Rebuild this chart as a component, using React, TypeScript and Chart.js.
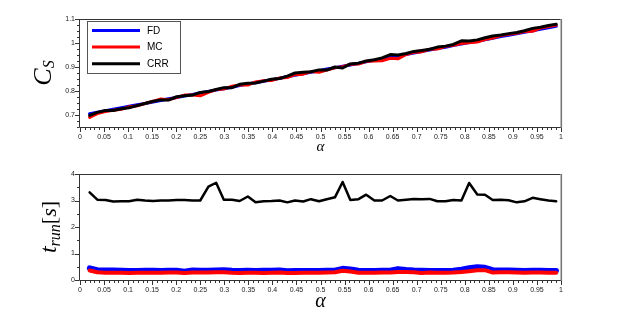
import React, { useEffect, useRef } from 'react';
import { Chart, registerables } from 'chart.js';

Chart.register(...registerables);

// ---------------- data ----------------
const alpha = [
  0.020, 0.036, 0.053, 0.069, 0.086, 0.102, 0.119, 0.135, 0.152, 0.168,
  0.184, 0.201, 0.217, 0.234, 0.250, 0.267, 0.283, 0.299, 0.316, 0.332,
  0.349, 0.365, 0.382, 0.398, 0.415, 0.431, 0.447, 0.464, 0.480, 0.497,
  0.513, 0.530, 0.546, 0.562, 0.579, 0.595, 0.612, 0.628, 0.645, 0.661,
  0.678, 0.694, 0.710, 0.727, 0.743, 0.760, 0.776, 0.793, 0.809, 0.826,
  0.842, 0.858, 0.875, 0.891, 0.908, 0.924, 0.941, 0.957, 0.974, 0.990,
];

const csFD = [
  0.705, 0.711, 0.717, 0.724, 0.730, 0.736, 0.742, 0.748, 0.754, 0.761,
  0.767, 0.773, 0.779, 0.785, 0.792, 0.798, 0.804, 0.810, 0.816, 0.823,
  0.829, 0.835, 0.841, 0.847, 0.853, 0.860, 0.866, 0.872, 0.878, 0.884,
  0.891, 0.897, 0.903, 0.909, 0.915, 0.922, 0.928, 0.934, 0.940, 0.946,
  0.952, 0.959, 0.965, 0.971, 0.977, 0.983, 0.990, 0.996, 1.002, 1.008,
  1.014, 1.020, 1.027, 1.033, 1.039, 1.045, 1.051, 1.058, 1.064, 1.070,
];

const csMC = [
  0.690, 0.706, 0.714, 0.720, 0.724, 0.734, 0.738, 0.748, 0.757, 0.767,
  0.764, 0.773, 0.783, 0.783, 0.780, 0.794, 0.806, 0.808, 0.820, 0.825,
  0.825, 0.838, 0.843, 0.844, 0.854, 0.856, 0.868, 0.870, 0.881, 0.878,
  0.887, 0.897, 0.901, 0.911, 0.912, 0.924, 0.925, 0.926, 0.936, 0.934,
  0.952, 0.961, 0.963, 0.974, 0.975, 0.986, 0.991, 0.998, 1.001, 1.004,
  1.014, 1.021, 1.031, 1.036, 1.041, 1.048, 1.049, 1.062, 1.069, 1.074,
];

const csCRR = [
  0.698, 0.711, 0.719, 0.719, 0.726, 0.730, 0.739, 0.748, 0.757, 0.763,
  0.762, 0.776, 0.780, 0.783, 0.794, 0.798, 0.806, 0.814, 0.814, 0.828,
  0.832, 0.833, 0.841, 0.849, 0.852, 0.862, 0.875, 0.878, 0.880, 0.888,
  0.887, 0.900, 0.896, 0.913, 0.916, 0.925, 0.930, 0.938, 0.952, 0.950,
  0.956, 0.965, 0.969, 0.974, 0.983, 0.987, 0.994, 1.009, 1.008, 1.013,
  1.022, 1.029, 1.033, 1.039, 1.044, 1.051, 1.061, 1.066, 1.073, 1.078,
];

const tFD = [
  0.45, 0.38, 0.37, 0.37, 0.36, 0.35, 0.35, 0.36, 0.36, 0.35,
  0.36, 0.36, 0.32, 0.37, 0.36, 0.36, 0.37, 0.38, 0.36, 0.35,
  0.36, 0.35, 0.36, 0.36, 0.37, 0.34, 0.35, 0.35, 0.35, 0.35,
  0.36, 0.36, 0.43, 0.41, 0.36, 0.35, 0.35, 0.36, 0.36, 0.42,
  0.39, 0.37, 0.36, 0.35, 0.35, 0.35, 0.36, 0.40, 0.45, 0.49,
  0.47, 0.38, 0.37, 0.37, 0.36, 0.35, 0.36, 0.36, 0.35, 0.35,
];

const tMC = [
  0.36, 0.29, 0.27, 0.27, 0.27, 0.26, 0.27, 0.27, 0.27, 0.27,
  0.28, 0.28, 0.26, 0.28, 0.28, 0.28, 0.29, 0.29, 0.27, 0.26,
  0.27, 0.27, 0.26, 0.27, 0.28, 0.26, 0.26, 0.27, 0.27, 0.27,
  0.28, 0.29, 0.35, 0.32, 0.27, 0.27, 0.27, 0.28, 0.28, 0.30,
  0.30, 0.29, 0.26, 0.28, 0.27, 0.27, 0.28, 0.30, 0.33, 0.37,
  0.37, 0.28, 0.29, 0.29, 0.28, 0.27, 0.28, 0.28, 0.27, 0.27,
];

const tCRR = [
  3.31, 3.03, 3.02, 2.96, 2.97, 2.97, 3.03, 3.00, 2.98, 3.00,
  3.00, 3.02, 3.02, 3.00, 3.00, 3.52, 3.67, 3.03, 3.03, 2.98,
  3.15, 2.93, 2.97, 2.98, 3.00, 2.93, 3.00, 2.96, 3.05, 2.97,
  3.05, 3.12, 3.70, 3.02, 3.05, 3.22, 3.00, 3.00, 3.17, 3.00,
  3.03, 3.06, 3.05, 3.06, 2.97, 2.97, 3.02, 3.00, 3.66, 3.23,
  3.22, 3.02, 3.03, 3.01, 2.93, 2.97, 3.10, 3.05, 3.00, 2.97,
];

const seriesNames = ['FD', 'MC', 'CRR'];
const seriesColors = ['#0000ff', '#ff0000', '#000000'];

// ---------------- helpers ----------------
const pts = (ys: number[]) => alpha.map((x, i) => ({ x, y: ys[i] }));
const isMult = (v: number, step: number) =>
  Math.abs(v / step - Math.round(v / step)) < 1e-6;
const fmt = (v: number) => String(Number(v.toFixed(2)));

type Part = { t: string; font: string; dy: number };

function drawRotatedParts(ctx: CanvasRenderingContext2D, parts: Part[], cx: number, cy: number) {
  ctx.save();
  ctx.translate(cx, cy);
  ctx.rotate(-Math.PI / 2);
  ctx.fillStyle = '#000';
  ctx.textBaseline = 'alphabetic';
  ctx.textAlign = 'left';
  let total = 0;
  const widths = parts.map((p) => {
    ctx.font = p.font;
    const w = ctx.measureText(p.t).width;
    total += w;
    return w;
  });
  let x = -total / 2;
  parts.forEach((p, i) => {
    ctx.font = p.font;
    ctx.fillText(p.t, x, p.dy);
    x += widths[i];
  });
  ctx.restore();
}

function makePlugin(cfg: {
  legend: boolean;
  yParts: Part[];
  yX: number;
  alphaFont: string;
  alphaY: number;
}) {
  return {
    id: 'decor',
    afterDraw(chart: any) {
      const ctx: CanvasRenderingContext2D = chart.ctx;
      const a = chart.chartArea;
      const xs = chart.scales.x;
      const ys = chart.scales.y;
      const L = Math.round(a.left), R = Math.round(a.right);
      const T = Math.round(a.top), B = Math.round(a.bottom);
      ctx.save();
      // frame
      ctx.strokeStyle = '#333';
      ctx.lineWidth = 1;
      ctx.beginPath();
      ctx.moveTo(L - 0.5, T + 0.5);
      ctx.lineTo(R - 0.5, T + 0.5);
      ctx.moveTo(L - 0.5, T);
      ctx.lineTo(L - 0.5, B + 0.5);
      ctx.lineTo(R, B + 0.5);
      ctx.stroke();
      ctx.strokeStyle = '#777';
      ctx.lineWidth = 1.6;
      ctx.beginPath();
      ctx.moveTo(R + 0.3, T);
      ctx.lineTo(R + 0.3, B + 1);
      ctx.stroke();

      // tick marks (major = labelled)
      ctx.strokeStyle = '#333';
      ctx.lineWidth = 1;
      ctx.beginPath();
      xs.ticks.forEach((t: any) => {
        const px = Math.round(xs.getPixelForValue(t.value)) + 0.5;
        const len = t.label !== '' ? 4 : 2;
        ctx.moveTo(px, B + 1);
        ctx.lineTo(px, B + 1 + len);
      });
      ys.ticks.forEach((t: any) => {
        const py = Math.round(ys.getPixelForValue(t.value)) + 0.5;
        const len = t.label !== '' ? 4 : 2;
        ctx.moveTo(L - 1, py);
        ctx.lineTo(L - 1 - len, py);
      });
      ctx.stroke();

      // legend (FD, MC, CRR order)
      if (cfg.legend) {
        const bx = 87, by = 21, bw = 93, bh = 52;
        ctx.fillStyle = '#fff';
        ctx.fillRect(bx, by, bw, bh);
        ctx.strokeStyle = '#555';
        ctx.lineWidth = 1;
        ctx.strokeRect(bx + 0.5, by + 0.5, bw, bh);
        seriesNames.forEach((name, i) => {
          const ds = chart.data.datasets.find((d: any) => d.label === name);
          const y = 30.5 + i * 16.6;
          ctx.strokeStyle = ds ? ds.borderColor : seriesColors[i];
          ctx.lineWidth = 3;
          ctx.beginPath();
          ctx.moveTo(92, y);
          ctx.lineTo(140, y);
          ctx.stroke();
          ctx.fillStyle = '#000';
          ctx.font = '10px "Liberation Sans", Arial, sans-serif';
          ctx.textBaseline = 'middle';
          ctx.textAlign = 'left';
          ctx.fillText(name, 147, y + 0.5);
        });
      }

      // x title (alpha)
      ctx.fillStyle = '#000';
      ctx.font = cfg.alphaFont;
      ctx.textAlign = 'center';
      ctx.textBaseline = 'alphabetic';
      ctx.fillText('α', (a.left + a.right) / 2, cfg.alphaY);

      // y title
      drawRotatedParts(ctx, cfg.yParts, cfg.yX, (a.top + a.bottom) / 2);
      ctx.restore();
    },
  };
}

function buildChart(
  canvas: HTMLCanvasElement,
  datasets: any[],
  yMin: number,
  yMax: number,
  yStep: number,
  yMajor: number,
  xAxisHeight: number,
  plugin: any
) {
  const tickFont = { family: '"Liberation Sans", Arial, sans-serif', size: 7 };
  return new Chart(canvas, {
    type: 'line',
    data: { datasets },
    options: {
      animation: false,
      responsive: false,
      events: [],
      layout: { padding: { left: 0, top: 19, right: 81, bottom: 0 } },
      plugins: { legend: { display: false }, tooltip: { enabled: false } },
      elements: {
        point: { radius: 0 },
        line: { tension: 0, borderJoinStyle: 'round', borderCapStyle: 'round' },
      },
      scales: {
        x: {
          type: 'linear',
          min: 0,
          max: 1,
          grid: { display: false, drawTicks: false },
          border: { display: false },
          ticks: {
            stepSize: 0.01,
            autoSkip: false,
            maxRotation: 0,
            padding: 6,
            font: tickFont,
            color: '#222',
            callback: (v: any) => (isMult(Number(v), 0.05) ? fmt(Number(v)) : ''),
          },
          afterFit: (s: any) => {
            s.height = xAxisHeight;
          },
        },
        y: {
          type: 'linear',
          min: yMin,
          max: yMax,
          grid: { display: false, drawTicks: false },
          border: { display: false },
          ticks: {
            stepSize: yStep,
            autoSkip: false,
            padding: 5,
            font: tickFont,
            color: '#222',
            callback: (v: any) => (isMult(Number(v), yMajor) ? fmt(Number(v)) : ''),
          },
          afterFit: (s: any) => {
            s.width = 80;
          },
        },
      },
    },
    plugins: [plugin],
  } as any);
}

export default function App() {
  const topRef = useRef<HTMLCanvasElement>(null);
  const botRef = useRef<HTMLCanvasElement>(null);

  useEffect(() => {
    const serif = '"Liberation Serif", "Times New Roman", serif';
    // dataset index 0 is drawn on top by Chart.js
    const top = buildChart(
      topRef.current!,
      [
        { label: seriesNames[2], data: pts(csCRR), borderColor: seriesColors[2], borderWidth: 3 },
        { label: seriesNames[1], data: pts(csMC), borderColor: seriesColors[1], borderWidth: 3 },
        { label: seriesNames[0], data: pts(csFD), borderColor: seriesColors[0], borderWidth: 3.2 },
      ],
      0.65,
      1.1,
      0.025,
      0.1,
      28,
      makePlugin({
        legend: true,
        yParts: [
          { t: 'C', font: `italic 26px ${serif}`, dy: 0 },
          { t: 'S', font: `italic 16px ${serif}`, dy: 3 },
        ],
        yX: 51,
        alphaFont: `italic 15px ${serif}`,
        alphaY: 151,
      })
    );

    const bot = buildChart(
      botRef.current!,
      [
        { label: seriesNames[2], data: pts(tCRR), borderColor: seriesColors[2], borderWidth: 2.5 },
        { label: seriesNames[1], data: pts(tMC), borderColor: seriesColors[1], borderWidth: 4 },
        { label: seriesNames[0], data: pts(tFD), borderColor: seriesColors[0], borderWidth: 5.5 },
      ],
      0,
      4,
      0.5,
      1,
      30,
      makePlugin({
        legend: false,
        yParts: [
          { t: 't', font: `italic 24px ${serif}`, dy: 0 },
          { t: 'run', font: `italic 16px ${serif}`, dy: 4 },
          { t: '[', font: `22px ${serif}`, dy: 0 },
          { t: 's', font: `italic 22px ${serif}`, dy: 0 },
          { t: ']', font: `22px ${serif}`, dy: 0 },
        ],
        yX: 56,
        alphaFont: `italic 20px ${serif}`,
        alphaY: 152,
      })
    );
    return () => {
      top.destroy();
      bot.destroy();
    };
  }, []);

  return (
    <div style={{ position: 'absolute', left: 0, top: 0, width: 642, height: 310, background: '#fff' }}>
      <canvas ref={topRef} width={642} height={155} style={{ display: 'block' }} />
      <canvas ref={botRef} width={642} height={155} style={{ display: 'block' }} />
    </div>
  );
}
